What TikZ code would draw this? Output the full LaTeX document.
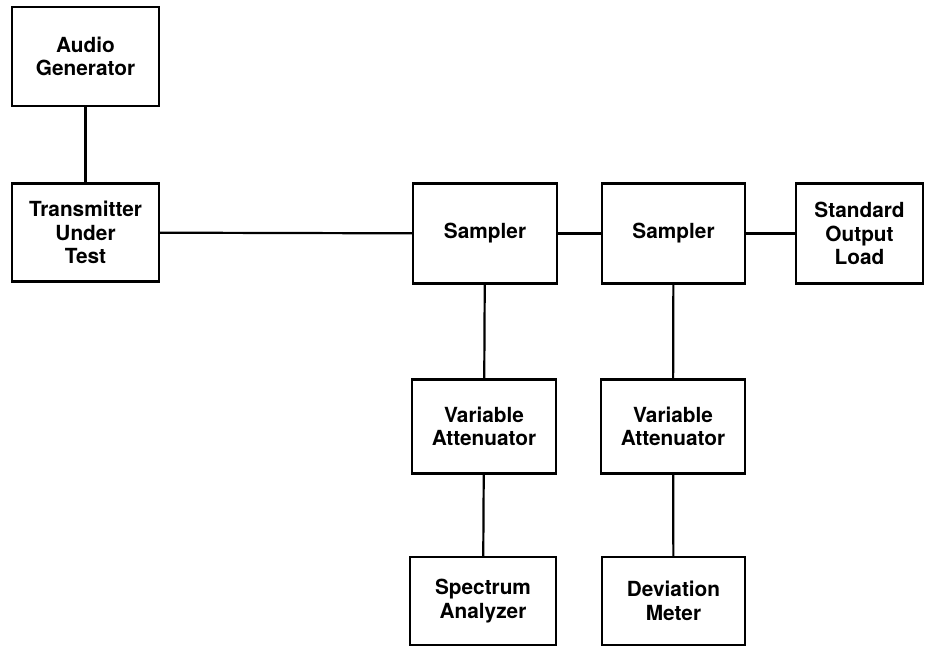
\documentclass[tikz,border=0pt]{standalone}
\usepackage{fontspec}
\setmainfont{TeX Gyre Heros}
\tikzset{
  blk/.style={draw, line width=2.2pt, align=center, inner sep=0pt,
    font=\bfseries\fontsize{20.8}{23.5}\selectfont},
  wire/.style={line width=2.2pt}
}
\begin{document}
\begin{tikzpicture}[x=1pt,y=-1pt]
    \useasboundingbox (0,0) rectangle (925,646);
    \foreach \n/\x/\y/\w/\h/\t in {
        audio/85.5/56.5/147/99/{Audio\\Generator},
        tut/85.5/232.5/147/98/{Transmitter\\Under\\Test},
        smpa/485/233.5/144/100/{Sampler},
        smpb/673.5/233.5/143/100/{Sampler},
        load/859.5/233.5/127/100/{Standard\\Output\\Load},
        atta/484/426.5/144/94/{Variable\\Attenuator},
        attb/673/426.5/144/94/{Variable\\Attenuator},
        spec/483/601/146/88/{Spectrum\\Analyzer},
        dev/673.5/601/143/88/{Deviation\\Meter}}{
      \node[blk, minimum width=\w pt, minimum height=\h pt] (\n) at (\x,\y) {\t};
    }
    \foreach \a/\b in {audio/tut, tut/smpa, smpa/smpb, smpb/load,
                       smpa/atta, atta/spec, smpb/attb, attb/dev}{
      \draw[wire] (\a) -- (\b);
    }
  \end{tikzpicture}
\end{document}
